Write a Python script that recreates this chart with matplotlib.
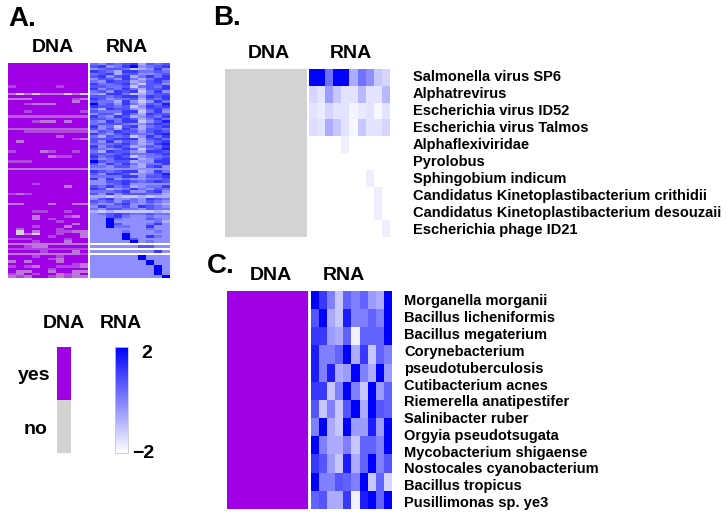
import matplotlib
matplotlib.use('Agg')
import matplotlib.pyplot as plt
from matplotlib.colors import LinearSegmentedColormap, Normalize
from matplotlib.cm import ScalarMappable

plt.rcParams['font.family'] = ['Liberation Sans', 'DejaVu Sans']
plt.rcParams['font.weight'] = 'bold'

W, H = 726, 515

# panel A, digits 0 (no / white) to 9 (yes / blue)
dnaA = [
  '9999999999','9999999999','9999999999','9999999999','9999999999','9999999999',
  '9999999999','9999999999','9999999999','6999996999','9999999999','9999999999',
  '4040444040','9999999999','4449999964','9999999949','9964449999','9999999999',
  '9999999999','9969999996','9999999999','5555555555','9999999999','9996449499',
  '9999999999','9999999999','5555555555','9966666666','9999999999','9999995999',
  '9999999964','9499999999','9999999999','9999999999','9999999999','6999469969',
  '9999999999','9999946699','9999999999','6669999999','9999999999','9999999999',
  '4444444444','9999999999','9999999999','9999999999','9999999999','9999999999',
  '9996999999','9999999499','9999999999','9999999999','6469999999','9999999999',
  '9999999999','9999999999','4499949944','9999999999','9999999999','9996699699',
  '9999999999','9994999649','9994969999','9999996999','9999999949','9996999499',
  '9599996999','9094996644','9040996994','9999969994','6669999699','9996999499',
  '4444444444','9964499999','6666666666','9999699949','4444444446','9996996999',
  '9999964999','4949994999','9999999964','6964996664','9999969999','9449949944',
  '6496994649','4649964644',
]

rnaA = [
  '5465673656','6745794567','4566523474','7653775565','5673664456','6746735757',
  '4664753577','5476634675','7556742664','6655625657','7465753667','5647672574',
  '4377523566','6656774767','7645563657','6553742475','9564753658','7665624767',
  '5376643675','6555772574','4663753766','7547634657','6655763575','5475772468',
  '5666544676','7452673567','6463753665','4657664676','7546755578','5365624757',
  '6667773675','6474653567','5556753478','7467634657','6545762568','5376643776',
  '6656755567','7567624556','6457773467','9656634477','6475753557','5546643674',
  '4444444444','7656773475','6477634568','5555774667','7474544556','4466765676',
  '4456744444','6575634557','7634575465','5556744674','6474666553','3323223233',
  '4674454765','6564654654','5446744543','4755647654','5466554655','3232222232',
  '4567655655','4467544544','4495444654','4494444453','4496444574','4495544744',
  '4444444544','4444544454','4444944444','4444944754','4444964444','4444494544',
  '0000000000','4444446644','0000000000','4444444474','0000000000','4444449444',
  '4444449444','4444444944','4444444944','4444444494','4444444494','4444444494',
  '4444444494','4444444449',
]

# panel B
dnaB = [[0] * 10 for r in range(10)]
rnaB = [
  [9, 9, 5, 9, 9, 3, 5, 4, 2, 1.5],
  [1.5, 1, 3.5, 2, 1, 1, 2.5, 1, 1, 2.5],
  [1, 0.7, 1.5, 1, 1, 0.4, 0.8, 1, 0.3, 1],
  [1.2, 1, 3, 2, 1, 0.3, 2, 1, 1, 1.5],
  [0, 0, 0, 0, 0.6, 0, 0, 0, 0, 0],
  [0, 0, 0, 0, 0, 0, 0, 0, 0, 0],
  [0, 0, 0, 0, 0, 0, 0, 0.6, 0, 0],
  [0, 0, 0, 0, 0, 0, 0, 0, 0.6, 0],
  [0, 0, 0, 0, 0, 0, 0, 0, 0.6, 0],
  [0, 0, 0, 0, 0, 0, 0, 0, 0, 0.6],
]
labelsB = ['Salmonella virus SP6', 'Alphatrevirus', 'Escherichia virus ID52',
  'Escherichia virus Talmos', 'Alphaflexiviridae', 'Pyrolobus', 'Sphingobium indicum',
  'Candidatus Kinetoplastibacterium crithidii', 'Candidatus Kinetoplastibacterium desouzaii',
  'Escherichia phage ID21']

# panel C
dnaC = [[9] * 10 for r in range(12)]
rnaC = [
  [9, 7, 4.5, 2, 5.5, 4.5, 5.5, 3.5, 3, 9],
  [6, 9, 3, 2, 8, 4.5, 4.5, 5.5, 4.5, 9],
  [7, 7, 3.5, 3, 5.5, 0.5, 5.5, 5.5, 5.5, 9],
  [8, 4.5, 4.5, 5.5, 9, 3, 7, 2, 5.5, 4.5],
  [8, 4.5, 8, 3, 3.5, 9, 4.5, 3, 9, 3.5],
  [7, 7, 2, 4.5, 9, 4.5, 2, 9, 3.5, 5.5],
  [6, 2, 4.5, 2, 6, 9, 3, 9, 6, 5.5],
  [4.5, 9, 3, 2, 9, 3.5, 3.5, 8, 3.5, 9],
  [9, 4.5, 3, 3, 4.5, 2, 5.5, 5.5, 4.5, 9],
  [7, 6, 3.5, 2, 8, 3, 5.5, 9, 4.5, 6],
  [9, 4.5, 4.5, 6, 5.5, 4.5, 9, 2, 5.5, 1.5],
  [5.5, 6, 3, 3, 7, 0.5, 8, 9, 5.5, 9],
]
labelsC = ['Morganella morganii', 'Bacillus licheniformis', 'Bacillus megaterium',
  'Corynebacterium', 'pseudotuberculosis', 'Cutibacterium acnes', 'Riemerella anatipestifer',
  'Salinibacter ruber', 'Orgyia pseudotsugata', 'Mycobacterium shigaense',
  'Nostocales cyanobacterium', 'Bacillus tropicus', 'Pusillimonas sp. ye3']

dnaCmap = LinearSegmentedColormap.from_list('dna', ['#d3d3d3', '#a000e6'])
rnaCmap = LinearSegmentedColormap.from_list('rna', ['#ffffff', '#0000ff'])

def toRows(rows):
  return [[int(c) for c in r] for r in rows]

fig = plt.figure(figsize=(W / 100, H / 100), dpi=100)

def pixelAxes(x0, y0, x1, y1):
  ax = fig.add_axes([x0 / W, 1 - y1 / H, (x1 - x0) / W, (y1 - y0) / H])
  ax.set_xticks([])
  ax.set_yticks([])
  for s in ax.spines.values():
    s.set_visible(False)
  return ax

def heat(box, data, cmap):
  ax = pixelAxes(*box)
  ax.imshow(data, cmap=cmap, vmin=0, vmax=9, aspect='auto', interpolation='nearest')

def label(x, y, s, size, **kw):
  fig.text(x / W, 1 - y / H, s, fontsize=size, va='center', **kw)

heat((8, 63, 88, 278), toRows(dnaA), dnaCmap)
heat((90, 63, 170, 278), toRows(rnaA), rnaCmap)
heat((225, 69, 306, 237), dnaB, dnaCmap)
heat((309, 69, 390, 237), rnaB, rnaCmap)
heat((227, 291, 308, 509), dnaC, dnaCmap)
heat((311, 291, 392, 509), rnaC, rnaCmap)

label(8, 19, 'A.', 20)
label(213, 18, 'B.', 20)
label(207, 266, 'C.', 20)

for x, y, s in [(53, 48, 'DNA'), (127, 48, 'RNA'), (269, 53, 'DNA'), (351, 53, 'RNA'),
                (271, 276, 'DNA'), (344, 276, 'RNA'), (64, 323, 'DNA'), (121, 323, 'RNA')]:
  label(x, y, s, 14, ha='center')

for i, s in enumerate(labelsB):
  label(413, 77.5 + i * 16.9, s, 10.5)
for i, s in enumerate(labelsC):
  label(404, 301.5 + i * 16.8, s, 10.5)

# legend bars
ax = pixelAxes(57, 347, 71, 453)
ax.imshow([[9], [0]], cmap=dnaCmap, vmin=0, vmax=9, aspect='auto')
cax = pixelAxes(115, 347, 128, 453)
fig.colorbar(ScalarMappable(Normalize(-2, 2), rnaCmap), cax=cax, ticks=[])
cax.spines['outline'].set_edgecolor('#c8c8c8')
cax.spines['outline'].set_linewidth(0.6)

label(34, 375, 'yes', 14, ha='center')
label(36, 430, 'no', 14, ha='center')
label(147, 354, '2', 14, ha='center')
label(143, 454, '\u22122', 14, ha='center')

fig.savefig('out.png', dpi=100)
